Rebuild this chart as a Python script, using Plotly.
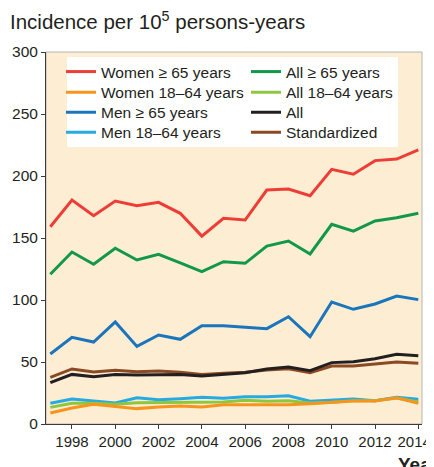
import plotly.graph_objects as go

years = list(range(1997, 2015))

women_65 = [159.1, 180.6, 168.0, 179.8, 176.0, 178.8, 169.9, 151.5, 165.9, 164.5, 188.7, 189.5, 184.1, 205.4, 201.4, 212.4, 213.7, 221.0]
women_18_64 = [8.9, 12.9, 15.9, 14.2, 12.4, 13.7, 14.5, 13.8, 15.6, 15.6, 15.6, 15.6, 16.4, 17.2, 18.5, 18.5, 21.2, 16.7]
men_65 = [56.5, 69.9, 66.1, 82.3, 62.6, 71.8, 68.3, 79.3, 79.3, 78.0, 76.9, 86.5, 70.4, 98.4, 92.5, 96.8, 103.2, 100.3]
men_18_64 = [16.7, 20.2, 18.5, 16.9, 21.2, 19.6, 20.4, 21.5, 20.7, 22.0, 22.0, 22.8, 18.3, 19.4, 20.2, 18.8, 21.5, 19.9]
all_65 = [120.7, 138.7, 128.8, 141.7, 132.3, 136.8, 130.0, 122.8, 130.9, 129.6, 143.5, 147.6, 137.1, 161.0, 155.6, 163.7, 166.4, 169.9]
all_18_64 = [13.4, 16.7, 16.7, 15.9, 17.2, 17.2, 17.7, 17.7, 17.7, 19.1, 18.3, 18.8, 16.9, 17.5, 18.8, 18.8, 21.0, 17.7]
all_total = [33.3, 40.0, 38.2, 40.0, 39.5, 40.0, 40.0, 38.7, 40.3, 41.4, 44.4, 46.0, 43.0, 49.5, 50.3, 52.7, 56.2, 55.1]
standardized = [37.6, 44.4, 41.9, 43.3, 42.2, 42.7, 41.7, 40.0, 40.9, 41.7, 43.5, 44.6, 41.4, 46.8, 46.8, 48.1, 50.0, 48.9]

series_names = ["Women ≥ 65 years", "Women 18–64 years", "Men ≥ 65 years", "Men 18–64 years",
                "All ≥ 65 years", "All 18–64 years", "All", "Standardized"]
series_values = [women_65, women_18_64, men_65, men_18_64, all_65, all_18_64, all_total, standardized]
series_colors = ["#ee3d36", "#f7941d", "#1b75bc", "#27aae1", "#12984a", "#8dc63f", "#231f20", "#8b4a24"]

x_tickvals = [1998, 2000, 2002, 2004, 2006, 2008, 2010, 2012, 2014]
x_ticktext = ["1998", "2000", "2002", "2004", "2006", "2008", "2010", "2012", "2014&nbsp;&nbsp;"]
y_tickvals = [0, 50, 100, 150, 200, 250, 300]

# The page has an 8px body margin, so figure coordinates = page pixels - 8
OFF = 8
W, H = 434, 467
PLOT_L, PLOT_R, PLOT_T, PLOT_B = 46, 422, 52, 424  # page pixels
ML = PLOT_L - OFF
MT = PLOT_T - OFF
MR = W - (PLOT_R - OFF)
MB = H - (PLOT_B - OFF)
PW = PLOT_R - PLOT_L
PH = PLOT_B - PLOT_T

def px_to_paper_x(px):
    return (px - PLOT_L) / PW

def px_to_paper_y(py):
    return (PLOT_B - py) / PH

fig = go.Figure()

draw_order = [3, 5, 1, 7, 6, 2, 4, 0]
legend_cols = [61, 61, 61, 61, 246, 246, 246, 246]
legend_rows = [72, 92.7, 112.7, 132.7, 72, 92.7, 112.7, 132.7]

for i in draw_order:
    lname = "legend" if i == 0 else f"legend{i+1}"
    fig.add_trace(go.Scatter(
        x=years, y=series_values[i], mode="lines", name=series_names[i],
        line=dict(color=series_colors[i], width=3),
        legend=lname,
    ))

font_family = "Liberation Sans, Arial, sans-serif"
text_color = "#231f20"

legend_layouts = {}
for i in range(8):
    key = "legend" if i == 0 else f"legend{i+1}"
    legend_layouts[key] = dict(
        x=px_to_paper_x(legend_cols[i]), xanchor="left",
        y=px_to_paper_y(legend_rows[i]), yanchor="middle",
        bgcolor="rgba(0,0,0,0)", borderwidth=0,
        font=dict(size=15.5, color=text_color, family=font_family),
    )

fig.update_layout(
    width=W, height=H,
    margin=dict(l=ML, r=MR, t=MT, b=MB, autoexpand=False),
    paper_bgcolor="white",
    plot_bgcolor="#fdeed3",
    font=dict(family=font_family, color=text_color, size=15.5),
    showlegend=True,
    title=dict(
        text="Incidence per 10<sup>5</sup> persons-years",
        x=(10 - OFF) / W, xanchor="left", xref="container",
        y=1 - (22 - OFF) / H, yanchor="middle", yref="container",
        font=dict(size=20.5, color=text_color, family=font_family),
    ),
    xaxis=dict(
        range=[1996.8, 2014.17], tickvals=x_tickvals, ticktext=x_ticktext,
        showgrid=False, zeroline=False,
        showline=True, linecolor="#3a3a3a", linewidth=1,
        ticks="outside", ticklen=4, tickcolor="#3a3a3a",
        tickfont=dict(size=15, color=text_color),
    ),
    yaxis=dict(
        range=[0, 300], tickvals=y_tickvals, showgrid=False, zeroline=False,
        showline=True, linecolor="#3a3a3a", linewidth=1,
        ticks="outside", ticklen=4, tickcolor="#3a3a3a",
        tickfont=dict(size=15.5, color=text_color),
    ),
    shapes=[
        dict(type="rect", xref="paper", yref="paper", x0=0, x1=1, y0=0, y1=1,
             line=dict(color="#b5b5b5", width=1), fillcolor="rgba(0,0,0,0)", layer="below"),
        dict(type="rect", xref="paper", yref="paper",
             x0=px_to_paper_x(67), x1=px_to_paper_x(398),
             y0=px_to_paper_y(147), y1=px_to_paper_y(57),
             line=dict(width=0), fillcolor="white", layer="below"),
    ],
    annotations=[
        dict(text="<b>Year</b>", xref="paper", yref="paper",
             x=px_to_paper_x(396), xanchor="left",
             y=px_to_paper_y(452), yanchor="top", showarrow=False,
             font=dict(size=19, color=text_color, family=font_family)),
    ],
    **legend_layouts,
)

fig.write_html("out.html")
